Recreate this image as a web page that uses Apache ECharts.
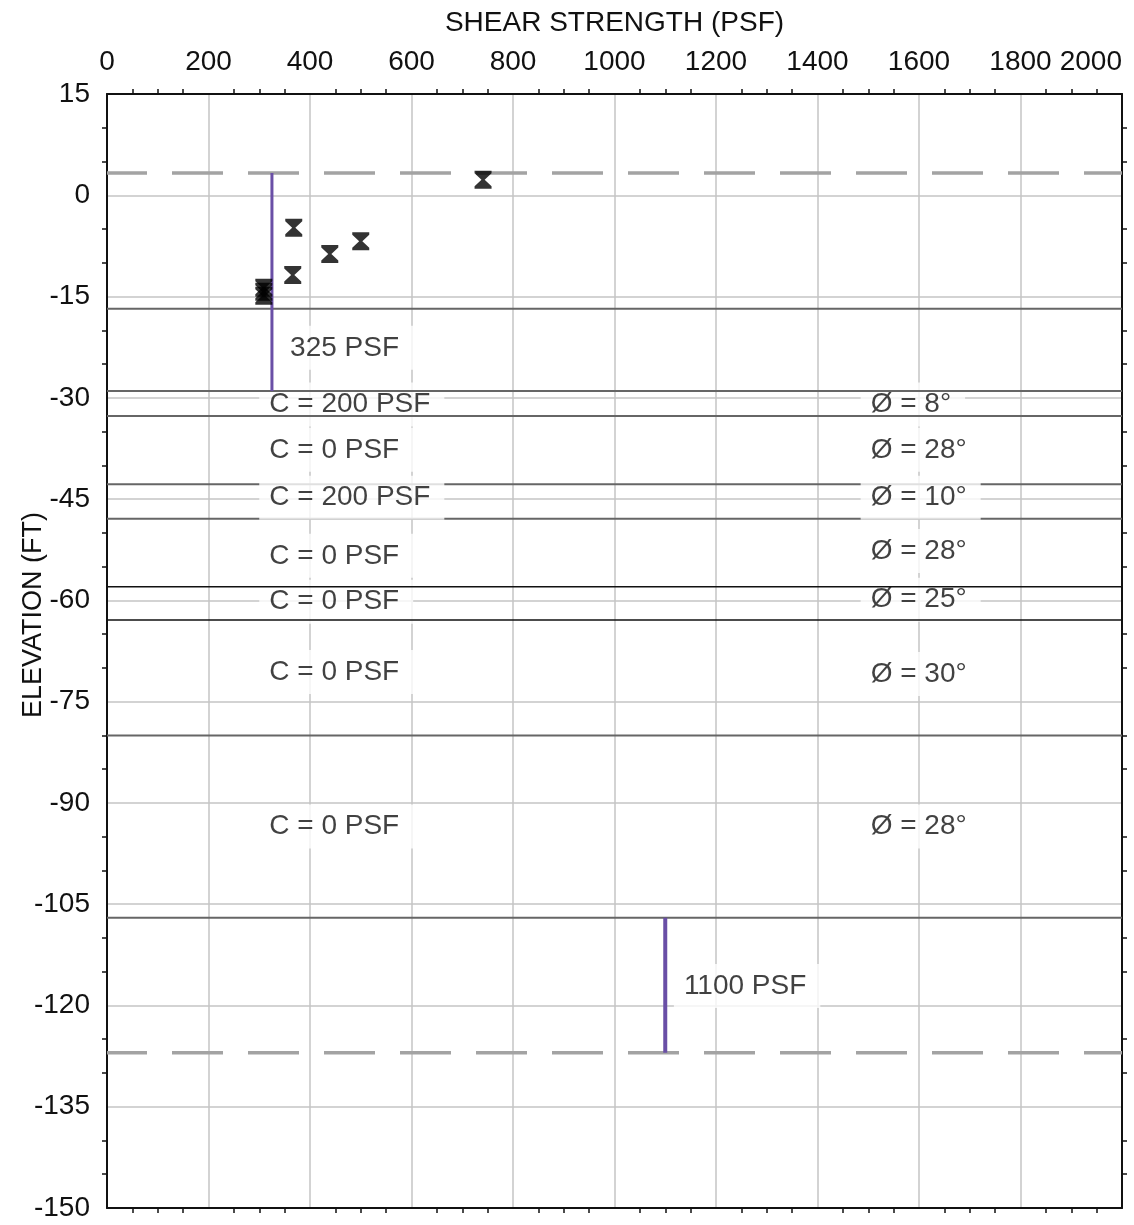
<!DOCTYPE html>
<html>
<head>
<meta charset="utf-8">
<script src="https://cdn.jsdelivr.net/npm/echarts@6/dist/echarts.min.js"></script>
<style>
  html, body { margin: 0; padding: 0; background: #fff; }
  #chart { width: 1134px; height: 1225px; }
</style>
</head>
<body>
<div id="chart"></div>
<script>
// test results (shear strength psf / elevation ft)
var testStrength = [741, 368, 366, 439, 500, 309, 309, 309];
var testElev = [2.3, -4.8, -11.8, -8.7, -6.8, -13.7, -14.3, -14.9];

// layer boundaries (elevation ft)
var grayBounds = [-16.8, -29, -32.7, -42.8, -47.9, -80, -107];
var blackBounds = [-58, -62.9];
var dashedLevels = [3.3, -127];

// design strength lines
var designStrength = [325, 1100];
var designTop = [3.3, -107];
var designBottom = [-29, -127];
var designText = ['325 PSF', '1100 PSF'];
var designTextX = [341, 1117];
var designTextY = [-22.6, -117.1];

// layer parameters
var cohesionText = ['C = 200 PSF', 'C = 0 PSF', 'C = 200 PSF', 'C = 0 PSF', 'C = 0 PSF', 'C = 0 PSF', 'C = 0 PSF'];
var cohesionY = [-31, -37.7, -44.8, -53.4, -60.2, -70.6, -93.5];
var phiText = ['Ø = 8°', 'Ø = 28°', 'Ø = 10°', 'Ø = 28°', 'Ø = 25°', 'Ø = 30°', 'Ø = 28°'];
var phiY = [-31, -37.7, -44.8, -52.7, -59.9, -70.9, -93.5];
var cohesionX = 300;
var phiX = 1485;

var font = 'Liberation Sans, Arial, sans-serif';
var txt = '#111';
var myChart = echarts.init(document.getElementById('chart'));

var series = [];

function hLine(y, color, width, type, z) {
    series.push({
        type: 'line',
        xAxisIndex: 0, yAxisIndex: 0,
        data: [[0, y], [2000, y]],
        symbol: 'none', silent: true, z: z,
        lineStyle: {color: color, width: width, type: type, dashOffset: 11}
    });
}

for (var i = 0; i < grayBounds.length; i++) {
    hLine(grayBounds[i], '#666', 2, 'solid', 4);
}
for (var i = 0; i < blackBounds.length; i++) {
    hLine(blackBounds[i], '#111', 1.5, 'solid', 4);
}
for (var i = 0; i < dashedLevels.length; i++) {
    hLine(dashedLevels[i], '#a3a3a3', 3.5, [51, 25], 4);
}

for (var i = 0; i < designStrength.length; i++) {
    series.push({
        type: 'line',
        data: [[designStrength[i], designTop[i]], [designStrength[i], designBottom[i]]],
        symbol: 'none', silent: true, z: 6,
        lineStyle: {color: '#6a4fa6', width: i == 0 ? 3 : 4}
    });
}

var labelStyle = {
    show: true,
    position: 'right',
    distance: 0,
    formatter: '{b}',
    color: txt,
    fontSize: 28,
    fontFamily: font,
    backgroundColor: '#fff',
    padding: [8, 14, 8, 10]
};

// parameter labels, some rows sit under the boundary lines
var under = [0, 1, 4];
var cUnder = [], cOver = [];
for (var i = 0; i < cohesionText.length; i++) {
    var c = {name: cohesionText[i], value: [cohesionX, cohesionY[i]]};
    var p = {name: phiText[i], value: [phiX, phiY[i]]};
    if (under.indexOf(i) >= 0) { cUnder.push(c, p); }
    else { cOver.push(c, p); }
}
for (var i = 0; i < designText.length; i++) {
    cOver.push({name: designText[i], value: [designTextX[i], designTextY[i]]});
}

series.push({
    type: 'scatter', symbolSize: 0, silent: true, z: 3,
    data: cUnder, label: labelStyle
});
series.push({
    type: 'scatter', symbolSize: 0, silent: true, z: 8,
    data: cOver, label: labelStyle
});

var points = [];
for (var i = 0; i < testStrength.length; i++) {
    points.push([testStrength[i], testElev[i]]);
}
series.push({
    type: 'scatter',
    data: points,
    symbol: 'path://M0,0 L16,0 L16,2.5 L9.5,9 L16,15.5 L16,18 L0,18 L0,15.5 L6.5,9 L0,2.5 Z',
    symbolSize: [17, 18],
    itemStyle: {color: '#000'},
    z: 9
});

function axisLine() {
    return {show: true, onZero: false, lineStyle: {color: '#111', width: 2}};
}
function minor(n) {
    return {show: true, splitNumber: n, length: 5, lineStyle: {color: '#111', width: 1.5}};
}

var option = {
    animation: false,
    backgroundColor: '#fff',
    grid: {left: 107, right: 12, top: 94, bottom: 17},
    xAxis: [
        {
            type: 'value', position: 'top', min: 0, max: 2000, interval: 200,
            name: 'SHEAR STRENGTH (PSF)', nameLocation: 'middle', nameGap: 57,
            nameTextStyle: {fontSize: 28, fontFamily: font, color: txt},
            axisLine: axisLine(),
            axisTick: {show: false},
            minorTick: minor(4),
            axisLabel: {fontSize: 28, fontFamily: font, color: txt, margin: 18, alignMaxLabel: 'right',
                formatter: function (v) { return String(v); }},
            splitLine: {show: true, lineStyle: {color: '#c4c4c4', width: 1.5}}
        },
        {
            type: 'value', position: 'bottom', min: 0, max: 2000, interval: 200,
            axisLine: axisLine(),
            axisTick: {show: false},
            minorTick: minor(4),
            axisLabel: {show: false},
            splitLine: {show: false}
        }
    ],
    yAxis: [
        {
            type: 'value', position: 'left', min: -150, max: 15, interval: 15,
            axisLine: axisLine(),
            axisTick: {show: false},
            minorTick: minor(3),
            axisLabel: {fontSize: 28, fontFamily: font, color: txt, margin: 17,
                formatter: function (v) { return String(v); }},
            splitLine: {show: true, lineStyle: {color: '#c4c4c4', width: 1.5}}
        },
        {
            type: 'value', position: 'right', min: -150, max: 15, interval: 15,
            axisLine: axisLine(),
            axisTick: {show: false},
            minorTick: minor(3),
            axisLabel: {show: false},
            splitLine: {show: false}
        }
    ],
    graphic: [{
        type: 'text',
        x: 34, y: 615,
        rotation: Math.PI / 2,
        style: {
            text: 'ELEVATION (FT)',
            font: '27px ' + font,
            fill: txt,
            align: 'center',
            verticalAlign: 'middle'
        }
    }],
    series: series
};
myChart.setOption(option);
</script>
</body>
</html>
